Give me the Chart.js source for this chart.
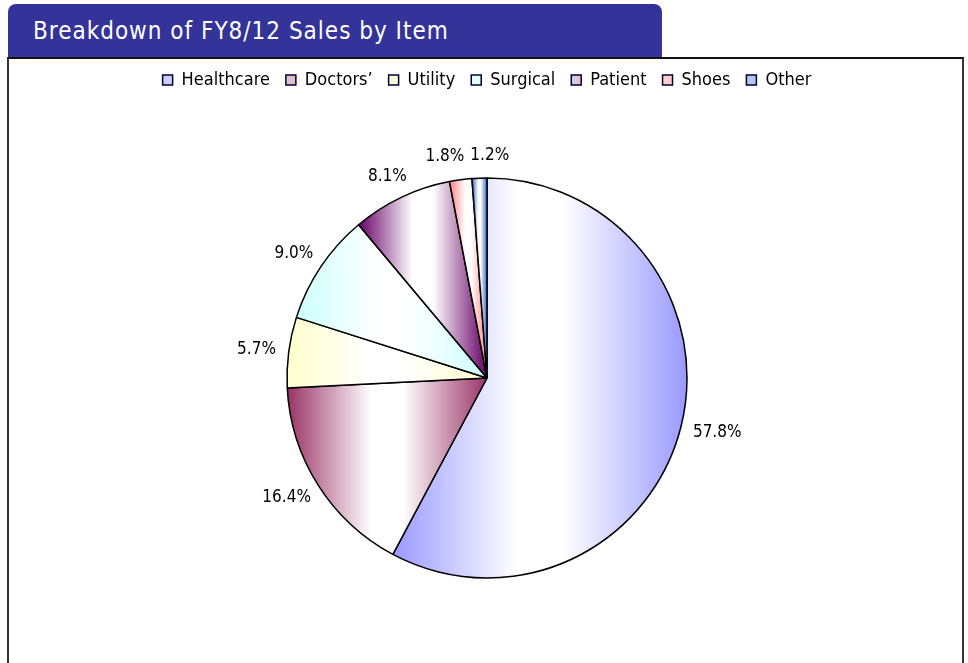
<!DOCTYPE html>
<html>
<head>
<meta charset="utf-8">
<script src="https://cdn.jsdelivr.net/npm/chart.js@4.4.0/dist/chart.umd.min.js"></script>
<style>
  body { margin: 0; background: #fff; width: 968px; height: 663px; overflow: hidden; position: relative; }
  .tab {
    position: absolute; left: 8px; top: 4px; width: 654px; height: 53px;
    background: #333399; border-radius: 8px 8px 0 0;
    color: #fff; font: 24px "Liberation Sans Narrow", "DejaVu Sans Condensed", sans-serif;
    letter-spacing: 1px;
    box-sizing: border-box; padding-left: 25px; line-height: 55px;
  }
  .frame {
    position: absolute; left: 7px; top: 57px; width: 957px; height: 640px;
    border: 2px solid #333; border-top-color: #111; box-sizing: border-box; background: #fff;
  }
  .box { position: absolute; left: 0; top: -4px; width: 953px; height: 612px; }
</style>
</head>
<body>
<div class="tab">Breakdown of FY8/12 Sales by Item</div>
<div class="frame">
  <div class="box"><canvas id="pie"></canvas></div>
</div>
<script>
let labels = ['Healthcare', 'Doctors\u2019', 'Utility', 'Surgical', 'Patient', 'Shoes', 'Other']
let values = [57.8, 16.4, 5.7, 9.0, 8.1, 1.8, 1.2]
let edgeColors = ['#9999ff', '#993366', '#ffffcc', '#ccffff', '#660066', '#ff8080', '#3366cc']
let boxColors = ['#ccccff', '#e0c0d0', '#ffffe0', '#e0ffff', '#d8c8d8', '#ffd0d0', '#b0c8ee']

let font = '"Liberation Sans Narrow", "DejaVu Sans Condensed", sans-serif'

// each slice gets a horizontal gradient over its own bounding box: colour - white - colour
let gradientPlugin = {
    id: 'sliceGradient',
    beforeDatasetsDraw(chart) {
        let ctx = chart.ctx
        chart.getDatasetMeta(0).data.forEach((arc, i) => {
            let p = arc.getProps(['x', 'y', 'startAngle', 'endAngle', 'outerRadius'], true)
            let xs = [p.x, p.x + p.outerRadius * Math.cos(p.startAngle), p.x + p.outerRadius * Math.cos(p.endAngle)]
            for (let k = -4; k <= 4; k++) {
                let a = k * Math.PI
                if (a > p.startAngle && a < p.endAngle) xs.push(p.x + p.outerRadius * Math.cos(a))
            }
            let x0 = Math.min(...xs), x1 = Math.max(...xs)
            let g = ctx.createLinearGradient(x0, 0, x1, 0)
            g.addColorStop(0, edgeColors[i])
            g.addColorStop(0.42, '#ffffff')
            g.addColorStop(0.58, '#ffffff')
            g.addColorStop(1, edgeColors[i])
            arc.options.backgroundColor = g
        })
    }
}

// percent labels just outside the pie
let labelPlugin = {
    id: 'pctLabels',
    afterDatasetsDraw(chart) {
        let ctx = chart.ctx
        ctx.save()
        ctx.font = '17px ' + font
        ctx.fillStyle = '#000'
        ctx.textAlign = 'center'
        ctx.textBaseline = 'middle'
        let pos = chart.getDatasetMeta(0).data.map((arc, i) => {
            let p = arc.getProps(['x', 'y', 'startAngle', 'endAngle', 'outerRadius'], true)
            let mid = (p.startAngle + p.endAngle) / 2
            let txt = values[i].toFixed(1) + '%'
            let w = ctx.measureText(txt).width
            let r = p.outerRadius + 13
            return {
                txt: txt, w: w,
                x: p.x + Math.cos(mid) * (r + w / 2),
                y: p.y + Math.sin(mid) * (r + 10)
            }
        })
        for (let i = 0; i < pos.length - 1; i++) {
            let a = pos[i], b = pos[i + 1]
            let need = (a.w + b.w) / 2 + 6
            if (Math.abs(a.y - b.y) < 18 && Math.abs(a.x - b.x) < need) {
                let m = (a.x + b.x) / 2
                let dir = a.x <= b.x ? 1 : -1
                a.x = m - dir * need / 2
                b.x = m + dir * need / 2
            }
        }
        pos.forEach(l => ctx.fillText(l.txt, l.x, l.y))
        ctx.restore()
    }
}

let ctx = document.getElementById('pie').getContext('2d')

let data = {
    labels: labels,
    datasets: [{
        data: values,
        backgroundColor: edgeColors,
        borderColor: '#000',
        borderWidth: 1.5,
        radius: 200
    }]
}

let options = {
    responsive: true,
    maintainAspectRatio: false,
    animation: false,
    layout: { padding: { top: 0, bottom: 10, left: 3, right: 0 } },
    plugins: {
        tooltip: { enabled: false },
        legend: {
            position: 'top',
            labels: {
                font: { size: 18, family: font },
                color: '#000',
                boxWidth: 10,
                boxHeight: 10,
                padding: 16,
                generateLabels: (chart) => labels.map((l, i) => ({
                    text: l,
                    fillStyle: boxColors[i],
                    strokeStyle: '#000033',
                    lineWidth: 1.5,
                    index: i
                }))
            }
        }
    }
}

let myPie = new Chart(ctx, {
    type: 'pie',
    data: data,
    options: options,
    plugins: [gradientPlugin, labelPlugin]
})
</script>
</body>
</html>
